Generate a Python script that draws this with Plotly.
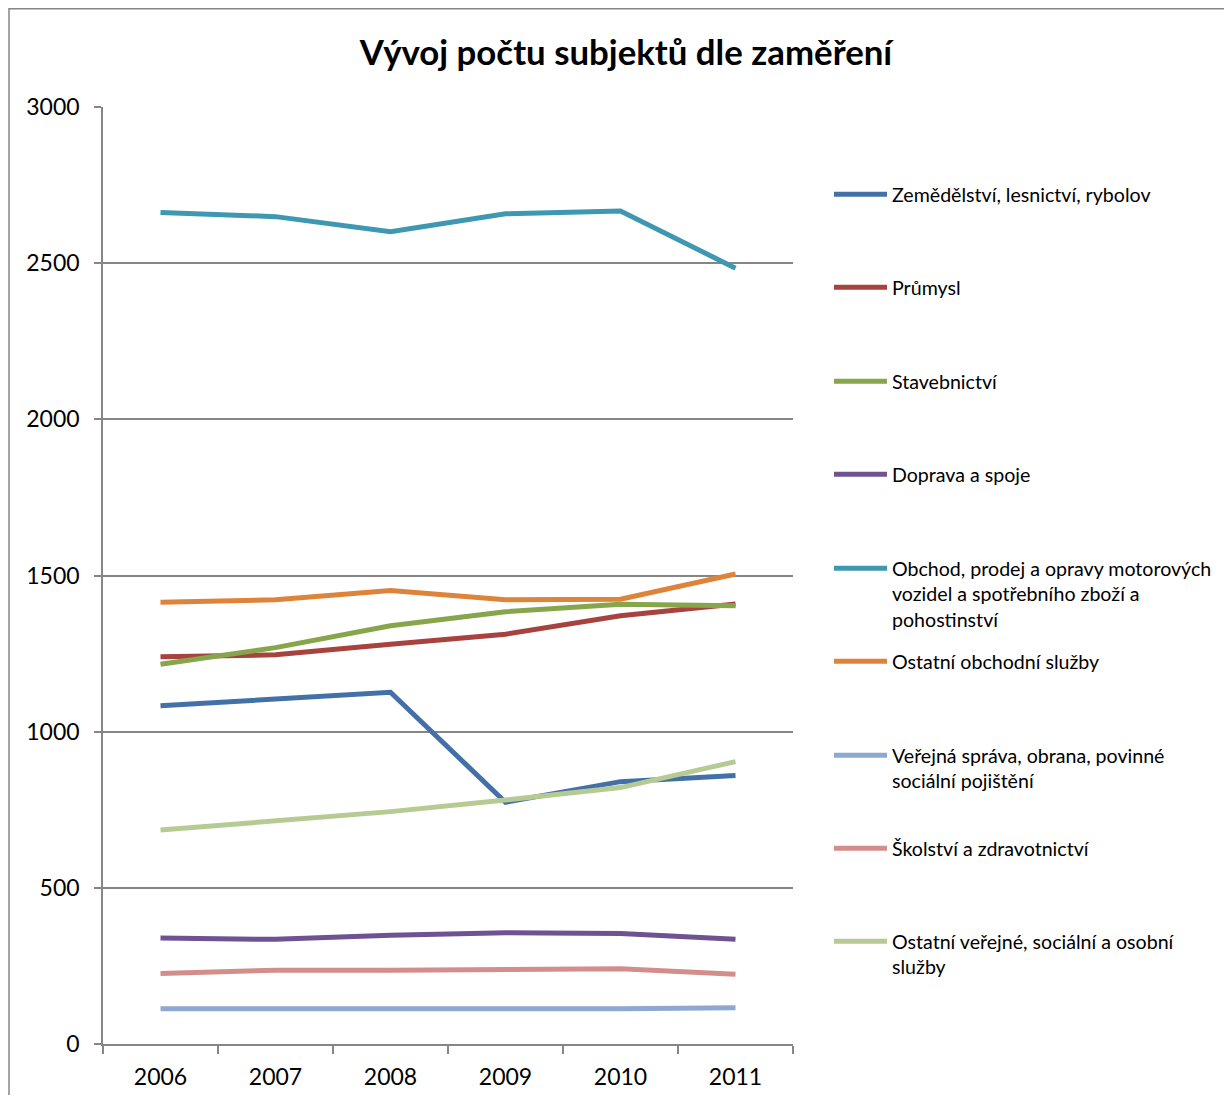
import plotly.graph_objects as go

years = ["2006", "2007", "2008", "2009", "2010", "2011"]

names = [
    "Zemědělství, lesnictví, rybolov",
    "Průmysl",
    "Stavebnictví",
    "Doprava a spoje",
    "Obchod, prodej a opravy motorových<br>vozidel a spotřebního zboží a<br>pohostinství",
    "Ostatní obchodní služby",
    "Veřejná správa, obrana, povinné<br>sociální pojištění",
    "Školství a zdravotnictví",
    "Ostatní veřejné, sociální a osobní<br>služby",
]

zemedelstvi = [1083, 1104, 1126, 774, 840, 860]
prumysl = [1240, 1246, 1280, 1312, 1371, 1409]
stavebnictvi = [1216, 1269, 1339, 1384, 1408, 1403]
doprava = [339, 335, 348, 356, 354, 335]
obchod = [2662, 2649, 2601, 2658, 2667, 2484]
ostatni_obchodni = [1414, 1422, 1452, 1422, 1424, 1505]
verejna_sprava = [113, 114, 114, 113, 113, 116]
skolstvi = [226, 236, 236, 239, 241, 223]
ostatni_verejne = [685, 714, 744, 781, 821, 904]

series = [zemedelstvi, prumysl, stavebnictvi, doprava, obchod,
          ostatni_obchodni, verejna_sprava, skolstvi, ostatni_verejne]
colors = ["#4470A8", "#A8423F", "#87A54A", "#6E5292", "#3F98B2",
          "#DE843A", "#8EA9D1", "#D38E8C", "#B6CB93"]

# legend entry rows (page pixel y of first text line)
legend_rows = [194, 287, 381, 474, 568, 661, 755, 848, 941]

OFF = 8  # default page body margin
W, H = 1232 - 2 * OFF, 1103 - 2 * OFF
# plot area in page pixels
PL, PR, PT, PB = 103, 793, 107, 1044
L, R, T, B = PL - OFF, PR - OFF, PT - OFF, PB - OFF

FONT = "Lato, sans-serif"

fig = go.Figure()
for i, (nm, vals, c) in enumerate(zip(names, series, colors)):
    lg = "legend" if i == 0 else f"legend{i+1}"
    fig.add_trace(go.Scatter(
        x=years, y=vals, mode="lines", name=nm,
        line=dict(color=c, width=5),
        legend=lg,
    ))

layout_legends = {}
for i, py in enumerate(legend_rows):
    key = "legend" if i == 0 else f"legend{i+1}"
    top = py - OFF - 19
    layout_legends[key] = dict(
        x=(835 - OFF - 6 - L) / (R - L),
        y=(B - top) / (B - T),
        xanchor="left", yanchor="top",
        valign="top",
        bgcolor="rgba(0,0,0,0)",
        borderwidth=0,
        font=dict(family=FONT, size=19.6, color="#000000"),
        itemwidth=53,
        tracegroupgap=0,
    )

fig.update_layout(
    width=W, height=H,
    margin=dict(l=L, r=W - R, t=T, b=H - B, pad=0, autoexpand=False),
    paper_bgcolor="white",
    plot_bgcolor="white",
    title=dict(
        text="<b>Vývoj počtu subjektů dle zaměření</b>",
        x=(626 - OFF) / W, xanchor="center",
        y=1 - (53 - OFF) / H, yanchor="middle",
        font=dict(family=FONT, size=34.8, color="#000000"),
    ),
    font=dict(family=FONT, color="#000000"),
    showlegend=True,
    **layout_legends,
)

fig.update_xaxes(
    type="category",
    range=[-0.5, 5.5],
    tickson="boundaries",
    automargin=False,
    ticks="outside", ticklen=8, tickwidth=1.5, tickcolor="#868686",
    showline=True, linecolor="#868686", linewidth=1.5,
    showgrid=False,
    tickfont=dict(family=FONT, size=23, color="#000000"),
    ticklabelstandoff=12,
    fixedrange=True,
)
fig.update_yaxes(
    range=[0, 3000],
    tickvals=[0, 500, 1000, 1500, 2000, 2500, 3000],
    automargin=False,
    ticks="outside", ticklen=7, tickwidth=1.5, tickcolor="#868686",
    showline=True, linecolor="#868686", linewidth=1.5,
    showgrid=True, gridcolor="#868686", gridwidth=1.5,
    zeroline=False,
    tickfont=dict(family=FONT, size=23, color="#000000"),
    ticklabelstandoff=10,
    fixedrange=True,
)

# outer chart border (page x=9, y=8; right/bottom beyond the picture)
fig.add_shape(type="rect", xref="paper", yref="paper",
              x0=(9 - OFF - L) / (R - L), x1=(W + 10 - L) / (R - L),
              y0=(B - (H + 10)) / (B - T), y1=(B - 0.75) / (B - T),
              line=dict(color="#868686", width=1.5), layer="below")

fig.write_html("out.html")
